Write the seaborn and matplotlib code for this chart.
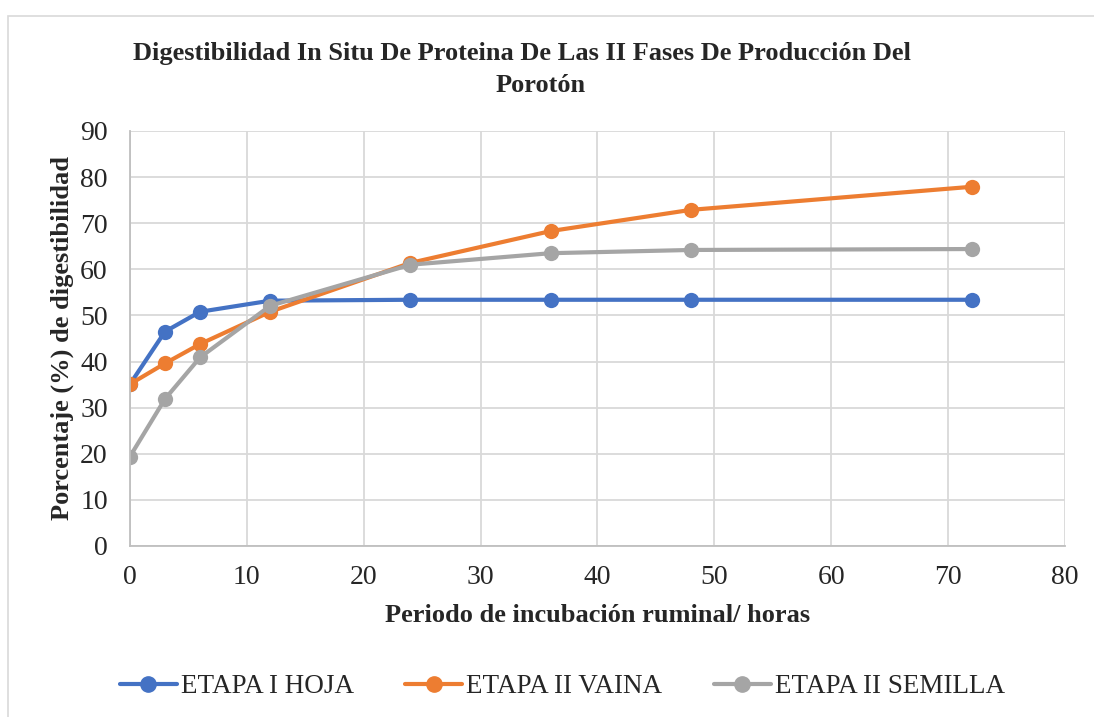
import pandas as pd
import matplotlib.pyplot as plt
import matplotlib.patches as mpatches
import seaborn as sns

# Datos
horas = [0, 3, 6, 12, 24, 36, 48, 72]
etapa_i_hoja = [35.1, 46.5, 50.8, 53.2, 53.4, 53.4, 53.4, 53.4]
etapa_ii_vaina = [35.1, 39.6, 43.8, 50.8, 61.4, 68.3, 72.9, 77.9]
etapa_ii_semilla = [19.4, 31.9, 40.9, 52.1, 61.0, 63.5, 64.2, 64.4]
series = ['ETAPA I HOJA', 'ETAPA II VAINA', 'ETAPA II SEMILLA']
colores = ['#4472C4', '#ED7D31', '#A5A5A5']

df = pd.DataFrame({
    'horas': horas * 3,
    'valor': etapa_i_hoja + etapa_ii_vaina + etapa_ii_semilla,
    'serie': [s for s in series for _ in horas],
})

sns.set_style('white')
plt.rcParams['font.family'] = ['Liberation Serif', 'DejaVu Serif']

fig = plt.figure(figsize=(10.94, 7.17), dpi=100)
ax = fig.add_axes([0.1188, 0.2385, 0.8547, 0.5788])

sns.lineplot(data=df, x='horas', y='valor', hue='serie', palette=colores,
             marker='o', markersize=11, markeredgewidth=0, linewidth=3,
             ax=ax, legend=False)

ax.set_xlim(0, 80)
ax.set_ylim(0, 90)
ax.set_xticks(range(0, 81, 10))
ax.set_yticks(range(0, 91, 10))
ax.grid(True, color='#d9d9d9', linewidth=1.3)
ax.set_axisbelow(True)
for lado in ['top', 'right']:
    ax.spines[lado].set_visible(False)
for lado in ['left', 'bottom']:
    ax.spines[lado].set_color('#bfbfbf')
    ax.spines[lado].set_linewidth(1.3)
ax.tick_params(axis='y', labelsize=20, length=0, pad=16)
ax.tick_params(axis='x', labelsize=20, length=0, pad=14)
ax.set_xlabel('')
ax.set_ylabel('')

fig.text(0.477, 0.926, 'Digestibilidad In Situ De Proteina De Las II Fases De Producción Del',
         ha='center', va='center', fontsize=19, fontweight='bold')
fig.text(0.494, 0.881, 'Porotón', ha='center', va='center', fontsize=19, fontweight='bold')
fig.text(0.057, 0.528, 'Porcentaje (%) de digestibilidad', rotation=90,
         ha='center', va='center', fontsize=19, fontweight='bold')
fig.text(0.546, 0.141, 'Periodo de incubación ruminal/ horas',
         ha='center', va='center', fontsize=19, fontweight='bold')

# Leyenda
handles = [plt.Line2D([], [], color=c, marker='o', markersize=11, linewidth=3) for c in colores]
fig.legend(handles, series, loc='center', bbox_to_anchor=(0.514, 0.042), ncol=3,
           frameon=False, fontsize=19.5, handlelength=2.1, handletextpad=0.15, columnspacing=1.9)

# Borde del área del gráfico
fig.patches.append(mpatches.Rectangle((0.007, -0.01), 1.0, 0.988, transform=fig.transFigure,
                                      fill=False, edgecolor='#d9d9d9', linewidth=1.2))

fig.savefig('out.png', dpi=100)
